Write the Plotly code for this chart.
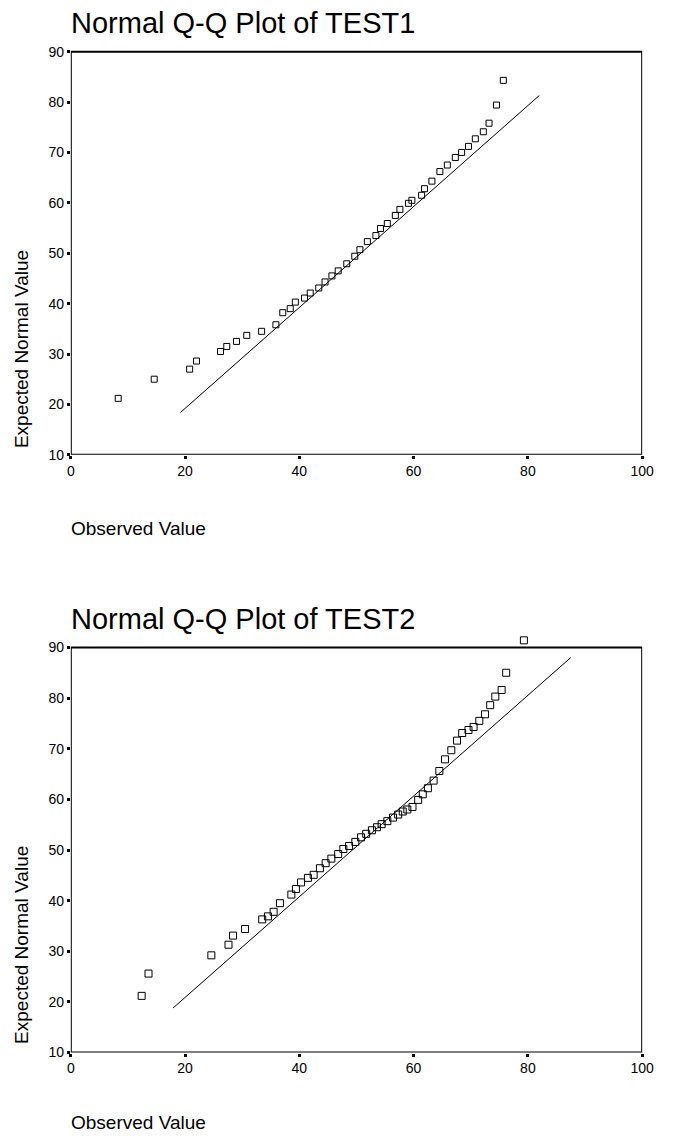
import plotly.graph_objects as go

W, H = 682, 1143

# ---------------- data ----------------
test1_observed = [8.3, 14.6, 20.8, 22.0, 26.2, 27.3, 29.0, 30.8, 33.4, 35.9, 37.1, 38.4, 39.3,
                  40.9, 41.9, 43.4, 44.5, 45.7, 46.8, 48.3, 49.7, 50.6, 51.9, 53.4, 54.2, 55.4,
                  56.8, 57.6, 59.1, 59.7, 61.4, 61.9, 63.2, 64.6, 65.9, 67.3, 68.4, 69.6, 70.8,
                  72.2, 73.2, 74.5, 75.7]
test1_expected = [21.2, 25.0, 27.0, 28.6, 30.5, 31.5, 32.5, 33.7, 34.5, 35.8, 38.2, 39.0, 40.3,
                  41.1, 42.1, 43.1, 44.3, 45.5, 46.5, 47.9, 49.4, 50.7, 52.3, 53.5, 54.9, 55.9,
                  57.5, 58.7, 59.9, 60.5, 61.5, 62.8, 64.3, 66.2, 67.5, 69.0, 70.0, 71.2, 72.7,
                  74.1, 75.8, 79.4, 84.3]
test1_line_x = [19.2, 82.0]
test1_line_y = [18.4, 81.3]

test2_observed = [12.4, 13.6, 24.6, 27.6, 28.4, 30.5, 33.5, 34.5, 35.5, 36.6, 38.6, 39.4, 40.3,
                  41.5, 42.5, 43.6, 44.6, 45.6, 46.8, 47.7, 48.7, 49.8, 50.8, 51.7, 52.7, 53.6,
                  54.4, 55.4, 56.4, 57.3, 58.1, 58.9, 59.8, 60.8, 61.6, 62.5, 63.5, 64.5, 65.5,
                  66.6, 67.6, 68.5, 69.6, 70.5, 71.5, 72.5, 73.4, 74.3, 75.4, 76.2, 79.3]
test2_expected = [21.2, 25.6, 29.2, 31.3, 33.1, 34.4, 36.3, 36.9, 37.8, 39.5, 41.2, 42.3, 43.6,
                  44.5, 45.1, 46.4, 47.4, 48.3, 49.2, 50.2, 50.8, 51.6, 52.5, 53.2, 53.9, 54.5,
                  55.1, 55.7, 56.4, 57.0, 57.6, 58.0, 58.5, 59.9, 61.0, 62.2, 63.7, 65.6, 67.9,
                  69.7, 71.6, 73.1, 73.7, 74.3, 75.5, 76.8, 78.6, 80.3, 81.6, 85.0, 91.4]
test2_line_x = [17.9, 87.5]
test2_line_y = [18.8, 88.0]

x_ticks = [0, 20, 40, 60, 80, 100]
y_ticks = [10, 20, 30, 40, 50, 60, 70, 80, 90]
x_range = [0, 100]
y_range = [10, 90]

titles = ["Normal Q-Q Plot of TEST1", "Normal Q-Q Plot of TEST2"]
x_title = "Observed Value"
y_title = "Expected Normal Value"

FONT = "Liberation Sans, Arial, sans-serif"

def py(p):
    return 1 - p / H

def px(p):
    return p / W

fig = go.Figure()

# extra headroom above 90 so the top outlier can be drawn above the frame
Y_EXTRA = 3.0

panels = [
    dict(obs=test1_observed, exp=test1_expected, lx=test1_line_x, ly=test1_line_y,
         xa="x", ya="y", msize=6, top=52, bottom=458),
    dict(obs=test2_observed, exp=test2_expected, lx=test2_line_x, ly=test2_line_y,
         xa="x2", ya="y2", msize=7, top=652, bottom=1060),
]

axis_common = dict(showgrid=False, zeroline=False, showline=False,
                   ticks="outside", ticklen=3, tickwidth=3,
                   tickcolor="black", tickfont=dict(family=FONT, size=14, color="black"))

x_dom = [px(68.4), px(653.5)]
layout_axes = {}
shapes = []
for i, p in enumerate(panels):
    fig.add_trace(go.Scatter(x=p["lx"], y=p["ly"], mode="lines",
                             line=dict(color="black", width=1),
                             xaxis=p["xa"], yaxis=p["ya"], showlegend=False, hoverinfo="skip"))
    fig.add_trace(go.Scatter(x=p["obs"], y=p["exp"], mode="markers",
                             marker=dict(symbol="square-open", size=p["msize"], color="black",
                                         line=dict(width=1, color="black")),
                             cliponaxis=False,
                             xaxis=p["xa"], yaxis=p["ya"], showlegend=False))
    ppu = (p["bottom"] - p["top"]) / (y_range[1] - y_range[0])
    top_px = p["top"] - Y_EXTRA * ppu
    sfx = "" if i == 0 else str(i + 1)
    layout_axes["xaxis" + sfx] = dict(domain=x_dom, range=x_range, tickvals=x_ticks,
                                      anchor="y" + sfx, **axis_common)
    layout_axes["yaxis" + sfx] = dict(domain=[py(p["bottom"]), py(top_px)],
                                      range=[y_range[0], y_range[1] + Y_EXTRA],
                                      tickvals=y_ticks, anchor="x" + sfx, **axis_common)
    shapes.append(dict(type="rect", xref="x" + sfx, yref="y" + sfx,
                       x0=x_range[0], x1=x_range[1], y0=y_range[0], y1=y_range[1],
                       line=dict(color="black", width=2), layer="above"))

fig.update_layout(
    width=W, height=H,
    margin=dict(l=0, r=0, t=0, b=0),
    paper_bgcolor="white", plot_bgcolor="white",
    shapes=shapes,
    **layout_axes,
)

ann = []
for title_y, xt_y, yt_y, t in [(23, 532, 352, titles[0]), (623, 1130, 952, titles[1])]:
    ann.append(dict(text=t, x=px(67), y=py(title_y), xref="paper", yref="paper",
                    xanchor="left", yanchor="middle", showarrow=False,
                    font=dict(family=FONT, size=29, color="black")))
    ann.append(dict(text=x_title, x=px(67), y=py(xt_y), xref="paper", yref="paper",
                    xanchor="left", yanchor="middle", showarrow=False,
                    font=dict(family=FONT, size=19, color="black")))
    ann.append(dict(text=y_title, x=px(18), y=py(yt_y), xref="paper", yref="paper",
                    xanchor="center", yanchor="middle", showarrow=False, textangle=-90,
                    font=dict(family=FONT, size=19, color="black")))
fig.update_layout(annotations=ann)

fig.write_html("out.html", config={"displayModeBar": False},
               post_script="document.body.style.margin='0px';document.body.style.padding='0px';")
